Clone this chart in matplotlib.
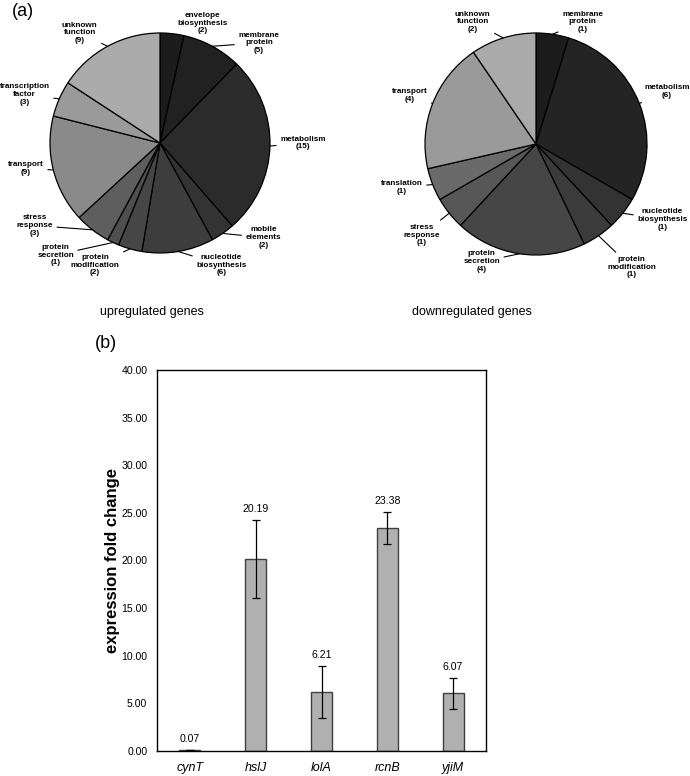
import matplotlib
matplotlib.use("Agg")
import matplotlib.pyplot as plt
import numpy as np

plt.rcParams['font.family'] = ['Liberation Sans', 'DejaVu Sans']

# ---- data ----
up_labels = ['envelope\nbiosynthesis', 'membrane\nprotein', 'metabolism', 'mobile\nelements',
             'nucleotide\nbiosynthesis', 'protein\nmodification', 'protein\nsecretion',
             'stress\nresponse', 'transport', 'transcription\nfactor', 'unknown\nfunction']
up_counts = [2, 5, 15, 2, 6, 2, 1, 3, 9, 3, 9]
up_colors = ['#1c1c1c', '#212121', '#2b2b2b', '#333333', '#3d3d3d', '#464646',
             '#4f4f4f', '#5e5e5e', '#8a8a8a', '#9a9a9a', '#ababab']

down_labels = ['membrane\nprotein', 'metabolism', 'nucleotide\nbiosynthesis', 'protein\nmodification',
               'protein\nsecretion', 'stress\nresponse', 'translation', 'transport', 'unknown\nfunction']
down_counts = [1, 6, 1, 1, 4, 1, 1, 4, 2]
down_colors = ['#1c1c1c', '#242424', '#333333', '#3b3b3b', '#464646', '#575757',
               '#6a6a6a', '#9a9a9a', '#aaaaaa']

genes = ['cynT', 'hslJ', 'lolA', 'rcnB', 'yjiM']
fold_change = [0.07, 20.19, 6.21, 23.38, 6.07]
fold_err = [0.0, 4.1, 2.73, 1.7, 1.62]

# label placement (pie units), and whether to draw a leader line
up_text_pos = [(0.39, 1.09), (0.90, 0.91), (1.30, 0.0), (0.94, -0.86), (0.56, -1.11),
               (-0.59, -1.11), (-0.95, -1.02), (-1.14, -0.75), (-1.22, -0.23),
               (-1.23, 0.44), (-0.73, 1.0)]
up_lines = [False, True, True, True, True, True, True, True, True, True, True]
down_text_pos = [(0.42, 1.10), (1.18, 0.47), (1.14, -0.68), (0.86, -1.11), (-0.49, -1.06),
                 (-1.03, -0.82), (-1.21, -0.39), (-1.14, 0.44), (-0.57, 1.10)]
down_lines = [True] * 9


def draw_pie(ax, labels, counts, colors, text_pos, lines):
    wedges, _ = ax.pie(counts, colors=colors, startangle=90, counterclock=False,
                       wedgeprops=dict(edgecolor='black', linewidth=0.9))
    ax.set_xlim(-1, 1)
    ax.set_ylim(-1, 1)
    ax.set_aspect('equal')
    for w, lab, n, pos, ln in zip(wedges, labels, counts, text_pos, lines):
        ang = np.deg2rad((w.theta1 + w.theta2) / 2)
        anchor = (np.cos(ang), np.sin(ang))
        txt = f'{lab}\n({n})'
        if ln:
            ax.annotate(txt, xy=anchor, xytext=pos, ha='center', va='center',
                        fontsize=5.9, fontweight='bold', linespacing=1.15,
                        annotation_clip=False,
                        arrowprops=dict(arrowstyle='-', lw=0.8, color='black',
                                        shrinkA=-1, shrinkB=0))
        else:
            ax.text(pos[0], pos[1], txt, ha='center', va='center', fontsize=5.9,
                    fontweight='bold', linespacing=1.15, clip_on=False)


W, H = 690, 776
fig = plt.figure(figsize=(6.9, 7.76), dpi=100)

# left pie: center (160,143) r 110
r1 = 110
ax1 = fig.add_axes([(160 - r1) / W, 1 - (143 + r1) / H, 2 * r1 / W, 2 * r1 / H])
draw_pie(ax1, up_labels, up_counts, up_colors, up_text_pos, up_lines)

# right pie: center (536,144) r 111
r2 = 111
ax2 = fig.add_axes([(536 - r2) / W, 1 - (144 + r2) / H, 2 * r2 / W, 2 * r2 / H])
draw_pie(ax2, down_labels, down_counts, down_colors, down_text_pos, down_lines)

fig.text(152 / W, 1 - 312 / H, 'upregulated genes', ha='center', va='center', fontsize=9)
fig.text(472 / W, 1 - 312 / H, 'downregulated genes', ha='center', va='center', fontsize=9)
fig.text(12 / W, 1 - 12 / H, '(a)', ha='left', va='center', fontsize=13)
fig.text(95 / W, 1 - 343 / H, '(b)', ha='left', va='center', fontsize=13)

# bar chart
ax3 = fig.add_axes([157 / W, 25 / H, 329 / W, 381 / H])
x = np.arange(len(genes))
ax3.bar(x, fold_change, width=0.32, color='#b0b0b0', edgecolor='#404040', linewidth=1.0, zorder=2)
ax3.errorbar(x, fold_change, yerr=fold_err, fmt='none', ecolor='black', elinewidth=0.9,
             capsize=3.2, capthick=0.9, zorder=3)
for xi, v, e in zip(x, fold_change, fold_err):
    ax3.annotate(f'{v:.2f}', xy=(xi, v + e), xytext=(0, 8), textcoords='offset points',
                 ha='center', va='center', fontsize=7.6)
ax3.set_xlim(-0.5, len(genes) - 0.5)
ax3.set_ylim(0, 40)
ax3.set_yticks(np.arange(0, 41, 5))
ax3.set_yticklabels([f'{t:.2f}' for t in np.arange(0, 41, 5)], fontsize=7.6)
ax3.set_xticks(x)
ax3.set_xticklabels(genes, fontsize=9, style='italic')
ax3.tick_params(axis='both', length=0)
ax3.tick_params(axis='y', pad=7)
ax3.tick_params(axis='x', pad=8)
ax3.set_ylabel('expression fold change', fontsize=12, fontweight='bold', labelpad=1)
for s in ax3.spines.values():
    s.set_linewidth(1.0)
    s.set_color('black')

fig.savefig('out.png', dpi=100)
